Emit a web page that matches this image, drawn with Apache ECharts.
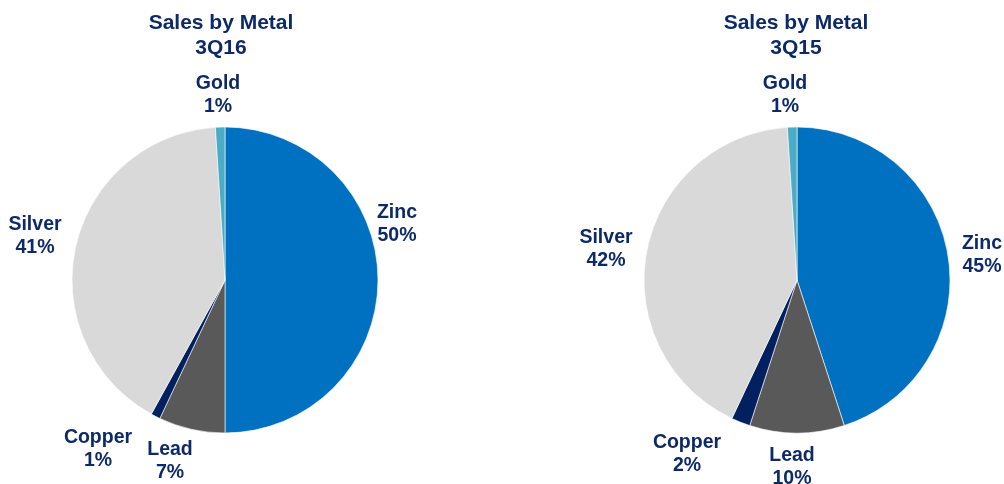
<!DOCTYPE html>
<html lang="en">
<head>
    <meta charset="UTF-8">
    <script src="https://cdn.jsdelivr.net/npm/echarts@6/dist/echarts.min.js"></script>
    <title>Sales by Metal</title>
    <style>
        body { margin: 0; background: #fff; }
    </style>
</head>
<body>
    <div id="main" style="width:1004px;height:484px"></div>
    <script>
        var metals = ['Zinc', 'Lead', 'Copper', 'Silver', 'Gold'];
        var sales3Q16 = [50, 7, 1, 41, 1];
        var sales3Q15 = [45, 10, 2, 42, 1];
        var periods = ['3Q16', '3Q15'];

        var colors = ['#0070C0', '#595959', '#002060', '#D9D9D9', '#4BACC6'];
        var textColor = '#0D2A68';
        var font = 'Liberation Sans, Arial, sans-serif';

        // label spots (centre of each two-line label), per pie, in metal order
        var labelSpots = [
            [[397, 224], [170, 461], [98, 449], [35, 236], [218, 95]],
            [[982, 255], [792, 467], [687, 454], [606, 249], [785, 95]]
        ];

        function makeData(values) {
            var out = [];
            for (var i = 0; i < metals.length; i++) {
                out.push({ name: metals[i], value: values[i], itemStyle: { color: colors[i] } });
            }
            return out;
        }

        function makeSeries(values, idx, cx) {
            return {
                type: 'pie',
                radius: 153,
                center: [cx, 280],
                startAngle: 90,
                clockwise: true,
                animation: false,
                silent: true,
                avoidLabelOverlap: false,
                data: makeData(values),
                itemStyle: { borderColor: '#ffffff', borderWidth: 0.6 },
                label: {
                    show: true,
                    position: 'outside',
                    formatter: '{b}\n{c}%',
                    color: textColor,
                    fontFamily: font,
                    fontWeight: 'bold',
                    fontSize: 19.5,
                    lineHeight: 23,
                    align: 'center',
                    overflow: 'none'
                },
                labelLine: { show: false },
                labelLayout: function (p) {
                    var spot = labelSpots[idx][p.dataIndex];
                    return { x: spot[0], y: spot[1], align: 'center', verticalAlign: 'middle', hideOverlap: false };
                }
            };
        }

        var titleStyle = { color: textColor, fontFamily: font, fontWeight: 'bold', fontSize: 21, lineHeight: 25 };

        var chart = echarts.init(document.getElementById('main'));
        chart.setOption({
            backgroundColor: '#ffffff',
            title: [
                { text: 'Sales by Metal\n' + periods[0], left: 216, top: 6, textAlign: 'center', textStyle: titleStyle },
                { text: 'Sales by Metal\n' + periods[1], left: 791, top: 6, textAlign: 'center', textStyle: titleStyle }
            ],
            series: [
                makeSeries(sales3Q16, 0, 225),
                makeSeries(sales3Q15, 1, 797)
            ]
        });
    </script>
</body>
</html>
